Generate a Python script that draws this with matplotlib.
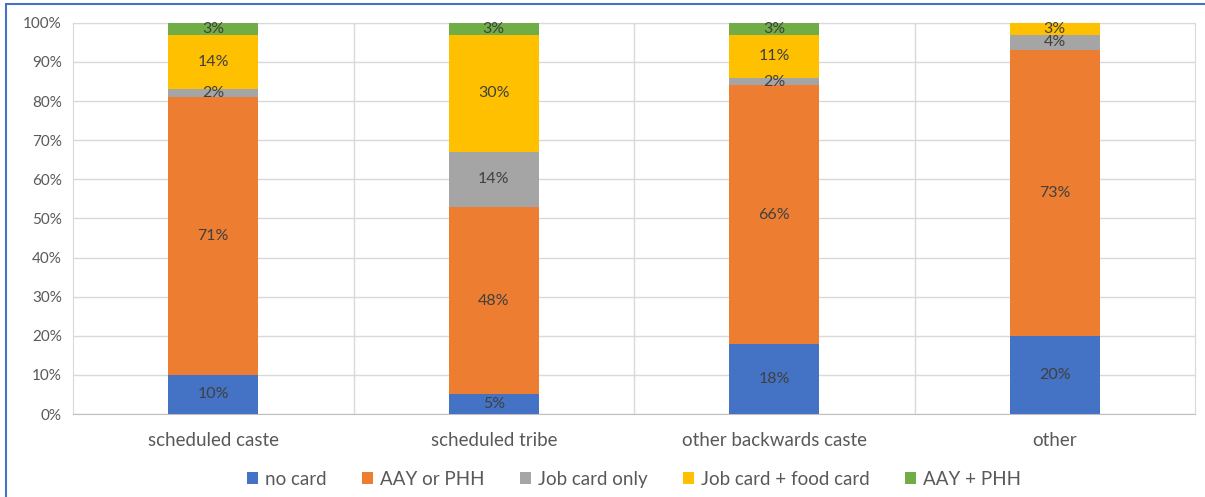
import numpy as np
import matplotlib
matplotlib.use('Agg')
import matplotlib.pyplot as plt
from matplotlib.patches import Rectangle

plt.rcParams['font.family'] = ['Lato', 'DejaVu Sans']

categories = ['scheduled caste', 'scheduled tribe', 'other backwards caste', 'other']
series_names = ['no card', 'AAY or PHH', 'Job card only', 'Job card + food card', 'AAY + PHH']
no_card = [10, 5, 18, 20]
aay_or_phh = [71, 48, 66, 73]
job_card_only = [2, 14, 2, 4]
job_food = [14, 30, 11, 3]
aay_plus_phh = [3, 3, 3, 0]

colors = ['#4472C4', '#ED7D31', '#A5A5A5', '#FFC000', '#70AD47']
series = [no_card, aay_or_phh, job_card_only, job_food, aay_plus_phh]

fig = plt.figure(figsize=(12.05, 4.97), dpi=100)
ax = fig.add_axes([0.0606, 0.167, 0.9311, 0.787])

x = np.arange(len(categories))
bottom = np.zeros(len(categories))
for name, vals, col in zip(series_names, series, colors):
    vals = np.array(vals, dtype=float)
    ax.bar(x, vals, 0.32, bottom=bottom, color=col, label=name, zorder=3)
    for xi, b, v in zip(x, bottom, vals):
        if v > 0:
            ax.text(xi, b + v / 2, f'{int(v)}%', ha='center', va='center',
                    fontsize=11.5, color='#404040', zorder=4)
    bottom += vals

ax.set_xlim(-0.5, 3.5)
ax.set_ylim(0, 100)
ax.set_yticks(np.arange(0, 101, 10))
ax.set_yticklabels([f'{t}%' for t in range(0, 101, 10)])
ax.set_xticks(x)
ax.set_xticklabels(categories, fontsize=13.5, color='#595959')
ax.tick_params(axis='y', labelsize=11, labelcolor='#595959', length=0, pad=8)
ax.tick_params(axis='x', length=0, pad=13)

ax.yaxis.grid(True, color='#D9D9D9', linewidth=1, zorder=0)
for xv in [0.5, 1.5, 2.5]:
    ax.axvline(xv, color='#D9D9D9', linewidth=1, zorder=0)
for s in ['left', 'right', 'top']:
    ax.spines[s].set_color('#D9D9D9')
ax.spines['bottom'].set_color('#BFBFBF')

ax.legend(loc='lower center', bbox_to_anchor=(0.5, -0.232), ncol=5, frameon=False,
          fontsize=13.5, handlelength=0.6, handleheight=0.6, columnspacing=1.9,
          handletextpad=0.35, labelcolor='#595959')

# blue frame round the chart
fig.patches.append(Rectangle((0.005, -0.01), 1.2, 1.002, transform=fig.transFigure,
                             fill=False, edgecolor='#4472C4', linewidth=1.5))

fig.savefig('out.png', dpi=100)
